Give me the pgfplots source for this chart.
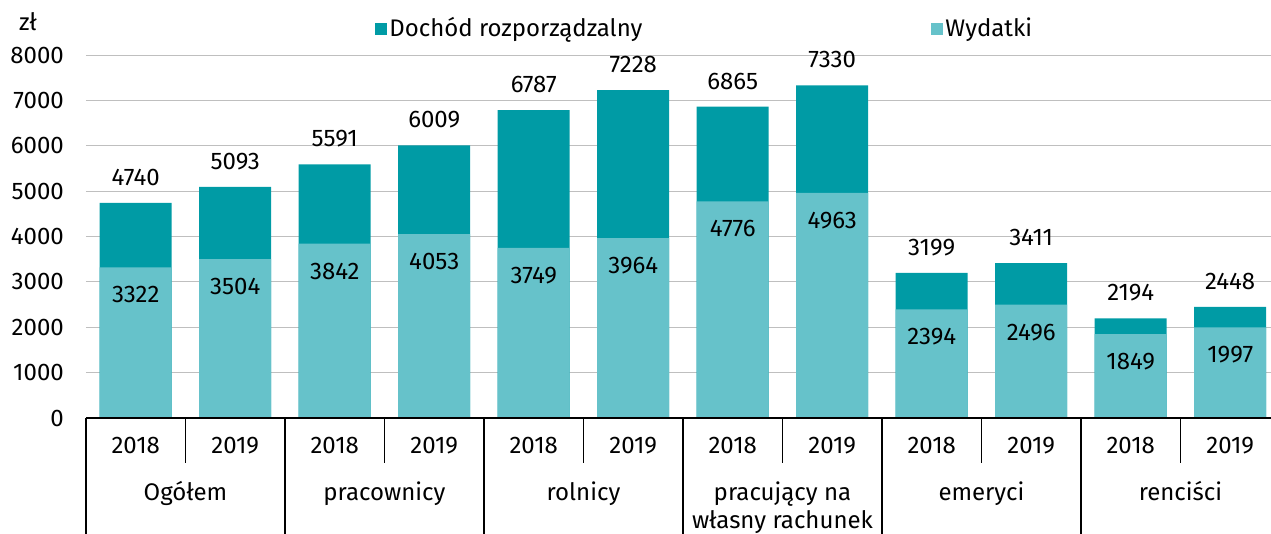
\documentclass[border=0pt]{standalone}
\usepackage{pgfplots}
\pgfplotsset{compat=1.18}
\usepackage{fontspec}
\setmainfont{Fira Sans}
\definecolor{dochod}{RGB}{0,155,165}
\definecolor{wydatki}{RGB}{102,194,202}
\begin{document}
\fontsize{24}{28}\selectfont
\begin{tikzpicture}
\begin{axis}[
    scale only axis,
    width=1185pt, height=363pt,
    xmin=-0.5, xmax=11.41,
    ymin=0, ymax=8000,
    ytick={0,1000,...,8000},
    xtick={0,...,11},
    xticklabels={2018,2019,2018,2019,2018,2019,2018,2019,2018,2019,2018,2019},
    major tick length=0pt,
    axis line style={draw=none},
    ymajorgrids=true,
    grid style={gray!50, line width=0.9pt},
    /pgf/number format/assume math mode=true,
    /pgf/number format/1000 sep={},
    yticklabel style={xshift=-14pt},
    xticklabel style={yshift=-11.5pt},
    clip=false,
    legend columns=2,
    legend style={at={(rel axis cs:0.2440,1.072)}, anchor=west, draw=none,
        fill=none, inner sep=0pt,
        /tikz/every even column/.append style={column sep=287pt}},
    legend image code/.code={\path[#1,draw=none] (0pt,-6pt) rectangle (12pt,6pt);},
]
% dochod rozporzadzalny
\addplot[ybar, bar width=72pt, bar shift=0pt, fill=dochod, draw=none,
    nodes near coords={\pgfmathprintnumber[1000 sep={}]{\pgfplotspointmeta}},
    nodes near coords style={anchor=south, yshift=9pt, text=black}]
    coordinates {
    (0,4740)(1,5093)(2,5591)(3,6009)(4,6787)(5,7228)
    (6,6865)(7,7330)(8,3199)(9,3411)(10,2194)(11,2448)
    };
% wydatki
\addplot[ybar, bar width=72pt, bar shift=0pt, fill=wydatki, draw=none,
    nodes near coords={\pgfmathprintnumber[1000 sep={}]{\pgfplotspointmeta}},
    nodes near coords style={anchor=north, yshift=-11pt, text=black}]
    coordinates {
    (0,3322)(1,3504)(2,3842)(3,4053)(4,3749)(5,3964)
    (6,4776)(7,4963)(8,2394)(9,2496)(10,1849)(11,1997)
    };
\legend{Dochód rozporządzalny,Wydatki}
\coordinate (o) at (rel axis cs:0,0);
\draw[black, line width=1.5pt] (rel axis cs:0,0) -- (rel axis cs:1,0);
\pgfplotsinvokeforeach{0.5,2.5,4.5,6.5,8.5,10.5}{
    \draw[black, line width=1.2pt] (axis cs:#1,0) -- ([yshift=-45pt]axis cs:#1,0);
}
\pgfplotsinvokeforeach{-0.5,1.5,3.5,5.5,7.5,9.5}{
    \draw[black, line width=1.2pt] (axis cs:#1,0) -- ([yshift=-120pt]axis cs:#1,0);
}
\node[anchor=base] at ([yshift=-82.5pt]axis cs:0.5,0) {Ogółem};
\node[anchor=base] at ([yshift=-82.5pt]axis cs:2.5,0) {pracownicy};
\node[anchor=base] at ([yshift=-82.5pt]axis cs:4.5,0) {rolnicy};
\node[anchor=base, align=center] at ([yshift=-110.5pt]axis cs:6.5,0) {pracujący na\\własny rachunek};
\node[anchor=base] at ([yshift=-82.5pt]axis cs:8.5,0) {emeryci};
\node[anchor=base] at ([yshift=-82.5pt]axis cs:10.5,0) {renciści};
\end{axis}
\node at ([xshift=-58pt, yshift=396pt]o) {zł};
\pgfresetboundingbox
\path[use as bounding box] ([xshift=-86pt, yshift=-116pt]o) rectangle ++(1271pt,534pt);
\end{tikzpicture}
\end{document}
